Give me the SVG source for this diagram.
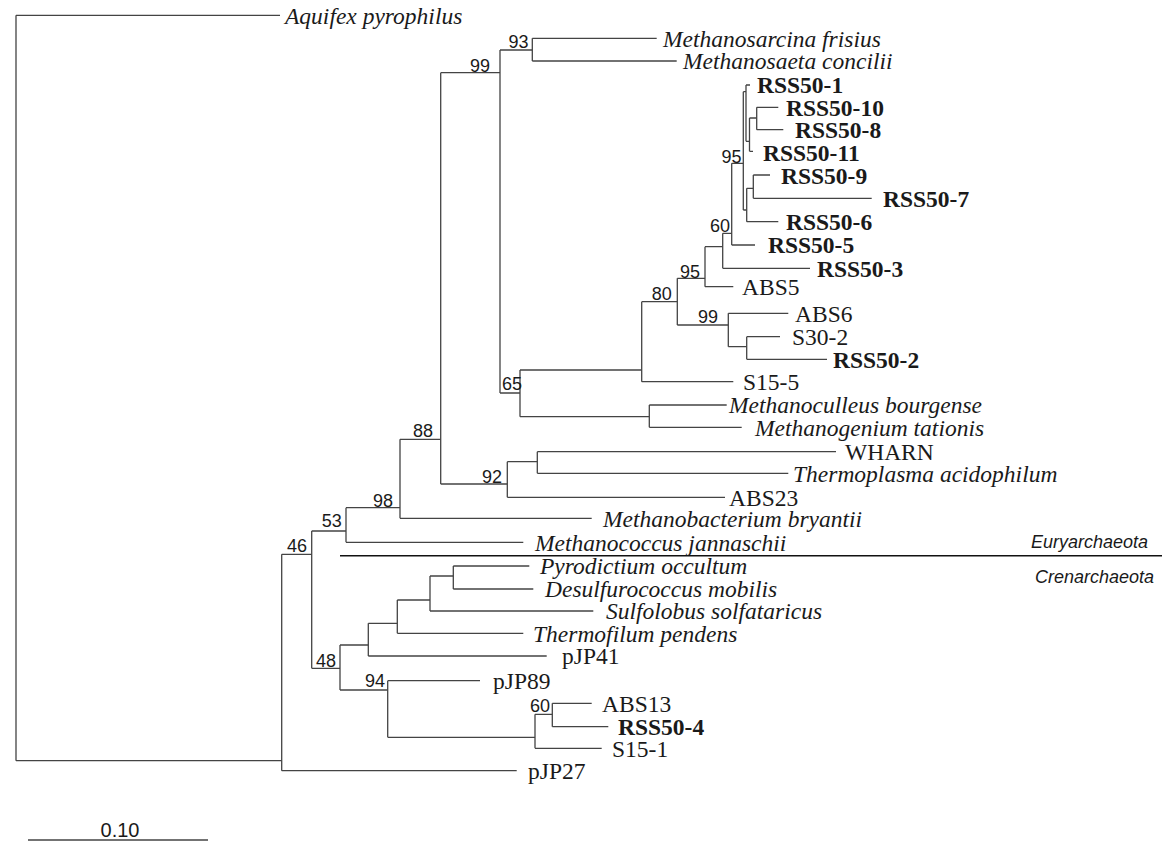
<svg xmlns="http://www.w3.org/2000/svg" width="1163" height="843" viewBox="0 0 1163 843">
<style>
.br{fill:none;stroke:#444;stroke-width:1.3}
.dv{fill:none;stroke:#111;stroke-width:1.4}
.lf{font-family:"Liberation Serif","Times New Roman",serif;font-size:23.5px;fill:#1a1a1a}
.it{font-style:italic}
.bd{font-weight:bold}
.bs{font-family:"Liberation Sans",Arial,sans-serif;font-size:18px;fill:#1a1a1a;text-anchor:end}
.grp{font-family:"Liberation Sans",Arial,sans-serif;font-size:18px;font-style:italic;fill:#1a1a1a}
</style>
<rect width="1163" height="843" fill="#fff"/>
<g id="connectors" class="br">
<path d="M16 15.3V760.7M16 15.3H280M16 760.7H281.7"/>
<path d="M281.7 554.3V770.7M281.7 554.3H311.7M281.7 770.7H516.7"/>
<path d="M311.7 531V668.3M311.7 531H346M311.7 668.3H340"/>
<path d="M346 507.7V542.3M346 507.7H400M346 542.3H523.3"/>
<path d="M400 439.3V518.3M400 439.3H440.7M400 518.3H591.7"/>
<path d="M440.7 72.7V484M440.7 72.7H500M440.7 484H507.3"/>
<path d="M500 50V393M500 50H532.3M500 393H520"/>
<path d="M532.3 38.3V61M532.3 38.3H656.7M532.3 61H676.7"/>
<path d="M520 370V416.7M520 370H641.7M520 416.7H649.3"/>
<path d="M641.7 301.7V381.7M641.7 301.7H677.3M641.7 381.7H733.3"/>
<path d="M677.3 278.3V325M677.3 278.3H705M677.3 325H728.3"/>
<path d="M705 246.7V286.7M705 246.7H722.7M705 286.7H733.3"/>
<path d="M722.7 233.3V268.3M722.7 233.3H731.7M722.7 268.3H810"/>
<path d="M731.7 163.3V245M731.7 163.3H743.3M731.7 245H755"/>
<path d="M743.3 91.7V210M743.3 91.7H746M743.3 210H746.7"/>
<path d="M746 85V141.3M746 85H750M746 141.3H749.5"/>
<path d="M749.5 118V151.3M749.5 118H756.7M749.5 151.3H753"/>
<path d="M756.7 107.3V129.7M756.7 107.3H778.3M756.7 129.7H783.3"/>
<path d="M746.7 188.3V221.7M746.7 188.3H753.3M746.7 221.7H778.3"/>
<path d="M753.3 175V198.3M753.3 175H770M753.3 198.3H871.7"/>
<path d="M728.3 313.3V346.7M728.3 313.3H788.3M728.3 346.7H746.7"/>
<path d="M746.7 336.7V359.3M746.7 336.7H780M746.7 359.3H827"/>
<path d="M649.3 405V427.3M649.3 405H726.7M649.3 427.3H741.7"/>
<path d="M507.3 461.7V497.3M507.3 461.7H537.3M507.3 497.3H725"/>
<path d="M537.3 451.7V473.3M537.3 451.7H836M537.3 473.3H788.3"/>
<path d="M340 645V690M340 645H368.3M340 690H387.7"/>
<path d="M368.3 623.3V656M368.3 623.3H397.3M368.3 656H546.7"/>
<path d="M397.3 600V633.3M397.3 600H430M397.3 633.3H523.3"/>
<path d="M430 576V611M430 576H453.3M430 611H593.3"/>
<path d="M453.3 566V589M453.3 566H529.3M453.3 589H533.3"/>
<path d="M387.7 680.7V737.3M387.7 680.7H480M387.7 737.3H535"/>
<path d="M535 714.3V748.3M535 714.3H552.3M535 748.3H601.7"/>
<path d="M552.3 703.3V726.7M552.3 703.3H591.7M552.3 726.7H608.3"/>
<path d="M28 840H208"/>
</g>
<g id="divider"><path class="dv" d="M340 555.7H1162"/></g>
<g id="leaf-aquifex"><text class="lf it" x="285" y="23.5">Aquifex pyrophilus</text></g>
<g id="leaf-msarcina"><text class="lf it" x="663" y="46.5">Methanosarcina frisius</text></g>
<g id="leaf-msaeta"><text class="lf it" x="683" y="69">Methanosaeta concilii</text></g>
<g id="leaf-rss50-1"><text class="lf bd" x="757" y="93">RSS50-1</text></g>
<g id="leaf-rss50-10"><text class="lf bd" x="786" y="115.5">RSS50-10</text></g>
<g id="leaf-rss50-8"><text class="lf bd" x="795" y="138">RSS50-8</text></g>
<g id="leaf-rss50-11"><text class="lf bd" x="763" y="161">RSS50-11</text></g>
<g id="leaf-rss50-9"><text class="lf bd" x="781" y="184">RSS50-9</text></g>
<g id="leaf-rss50-7"><text class="lf bd" x="883" y="207">RSS50-7</text></g>
<g id="leaf-rss50-6"><text class="lf bd" x="786" y="230">RSS50-6</text></g>
<g id="leaf-rss50-5"><text class="lf bd" x="768" y="253">RSS50-5</text></g>
<g id="leaf-rss50-3"><text class="lf bd" x="817" y="276.5">RSS50-3</text></g>
<g id="leaf-abs5"><text class="lf" x="742" y="295">ABS5</text></g>
<g id="leaf-abs6"><text class="lf" x="795" y="321.5">ABS6</text></g>
<g id="leaf-s30-2"><text class="lf" x="792" y="345">S30-2</text></g>
<g id="leaf-rss50-2"><text class="lf bd" x="833" y="367.5">RSS50-2</text></g>
<g id="leaf-s15-5"><text class="lf" x="743" y="390">S15-5</text></g>
<g id="leaf-mculleus"><text class="lf it" x="729" y="413">Methanoculleus bourgense</text></g>
<g id="leaf-mgenium"><text class="lf it" x="755" y="435.5">Methanogenium tationis</text></g>
<g id="leaf-wharn"><text class="lf" x="845" y="459.5">WHARN</text></g>
<g id="leaf-thermoplasma"><text class="lf it" x="793" y="481.5">Thermoplasma acidophilum</text></g>
<g id="leaf-abs23"><text class="lf" x="729" y="505.5">ABS23</text></g>
<g id="leaf-mbacterium"><text class="lf it" x="603" y="526.5">Methanobacterium bryantii</text></g>
<g id="leaf-mcoccus"><text class="lf it" x="535" y="550.5">Methanococcus jannaschii</text></g>
<g id="leaf-pyrodictium"><text class="lf it" x="540" y="574">Pyrodictium occultum</text></g>
<g id="leaf-desulfurococcus"><text class="lf it" x="545" y="597">Desulfurococcus mobilis</text></g>
<g id="leaf-sulfolobus"><text class="lf it" x="606" y="619">Sulfolobus solfataricus</text></g>
<g id="leaf-thermofilum"><text class="lf it" x="533" y="641.5">Thermofilum pendens</text></g>
<g id="leaf-pjp41"><text class="lf" x="562" y="664">pJP41</text></g>
<g id="leaf-pjp89"><text class="lf" x="493" y="689">pJP89</text></g>
<g id="leaf-abs13"><text class="lf" x="602" y="711.5">ABS13</text></g>
<g id="leaf-rss50-4"><text class="lf bd" x="618" y="735">RSS50-4</text></g>
<g id="leaf-s15-1"><text class="lf" x="612" y="756.5">S15-1</text></g>
<g id="leaf-pjp27"><text class="lf" x="528" y="779">pJP27</text></g>
<g id="node-99a"><text class="bs" x="490" y="71.5">99</text></g>
<g id="node-93"><text class="bs" x="528.5" y="48">93</text></g>
<g id="node-95a"><text class="bs" x="741.5" y="162.5">95</text></g>
<g id="node-60a"><text class="bs" x="730" y="232">60</text></g>
<g id="node-95b"><text class="bs" x="700" y="277.5">95</text></g>
<g id="node-80"><text class="bs" x="671.7" y="300">80</text></g>
<g id="node-99b"><text class="bs" x="718" y="323">99</text></g>
<g id="node-65"><text class="bs" x="522" y="390">65</text></g>
<g id="node-88"><text class="bs" x="433" y="437">88</text></g>
<g id="node-92"><text class="bs" x="502" y="483">92</text></g>
<g id="node-98"><text class="bs" x="393" y="506.5">98</text></g>
<g id="node-53"><text class="bs" x="341.7" y="527">53</text></g>
<g id="node-46"><text class="bs" x="307" y="552">46</text></g>
<g id="node-48"><text class="bs" x="336" y="667">48</text></g>
<g id="node-94"><text class="bs" x="385" y="687">94</text></g>
<g id="node-60b"><text class="bs" x="550" y="712">60</text></g>
<g id="group-eury"><text class="grp" x="1031" y="548">Euryarchaeota</text></g>
<g id="group-cren"><text class="grp" x="1035" y="583">Crenarchaeota</text></g>
<g id="scale"><text x="120" y="837" font-family="'Liberation Sans',Arial,sans-serif" font-size="20" fill="#1a1a1a" text-anchor="middle">0.10</text></g>
</svg>
